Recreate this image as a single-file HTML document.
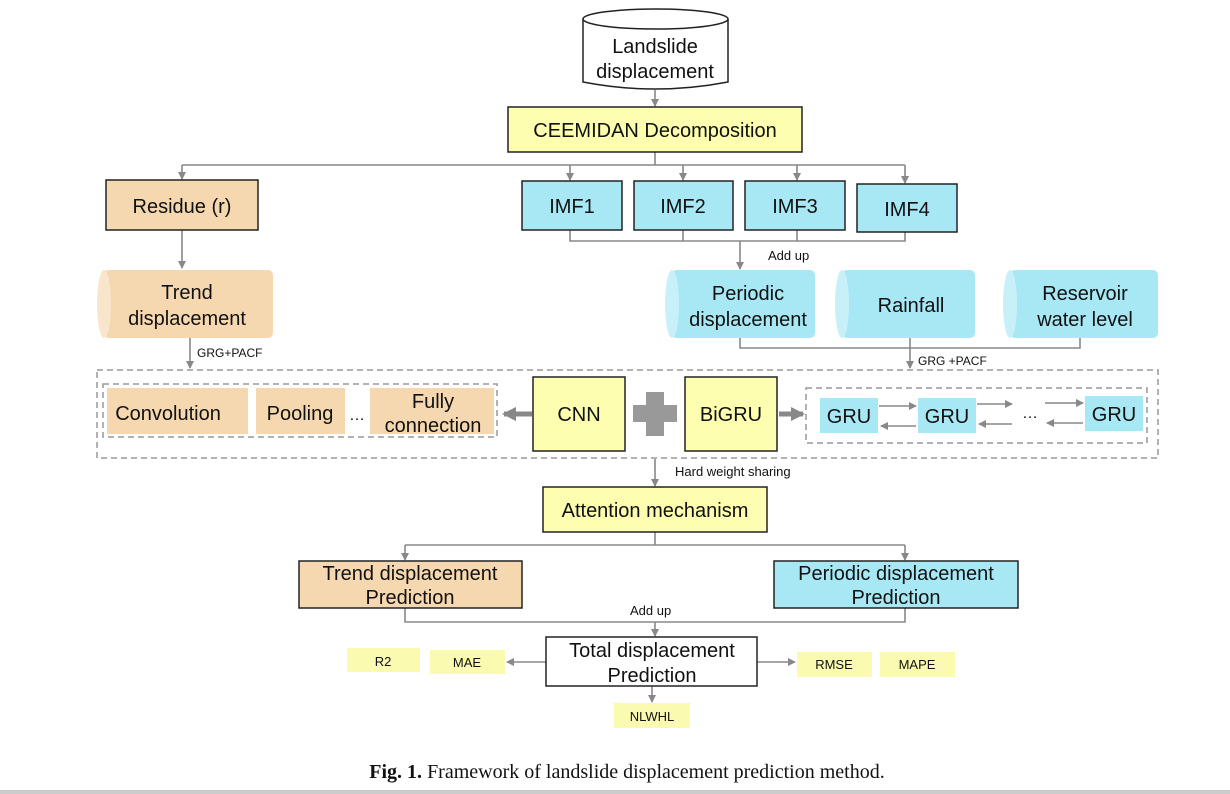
<!DOCTYPE html>
<html><head><meta charset="utf-8"><style>
html,body{margin:0;padding:0;background:#fff;}
svg{display:block;}
text{font-family:"Liberation Sans",Arial,sans-serif;fill:#111;}
</style></head><body>
<svg width="1230" height="794" viewBox="0 0 1230 794" xmlns="http://www.w3.org/2000/svg">
<defs>
<marker id="a" markerWidth="8" markerHeight="8" refX="7" refY="4" orient="auto" markerUnits="userSpaceOnUse"><path d="M0,0 L8,4 L0,8 z" fill="#888"/></marker>
<marker id="b" markerWidth="14" markerHeight="14" refX="12" refY="7" orient="auto" markerUnits="userSpaceOnUse"><path d="M0,0 L14,7 L0,14 z" fill="#888"/></marker>
</defs>
<g stroke="#888" stroke-width="1.6" fill="none">
<!-- top -->
<line x1="655" y1="90" x2="655" y2="106" marker-end="url(#a)"/>
<polyline points="655,152 655,165"/>
<line x1="182" y1="165" x2="905" y2="165"/>
<line x1="182" y1="165" x2="182" y2="179" marker-end="url(#a)"/>
<line x1="570" y1="165" x2="570" y2="180" marker-end="url(#a)"/>
<line x1="683" y1="165" x2="683" y2="180" marker-end="url(#a)"/>
<line x1="797" y1="165" x2="797" y2="180" marker-end="url(#a)"/>
<line x1="905" y1="165" x2="905" y2="183" marker-end="url(#a)"/>
<polyline points="570,230 570,241 905,241 905,232"/>
<line x1="683" y1="230" x2="683" y2="241"/>
<line x1="797" y1="230" x2="797" y2="241"/>
<line x1="740" y1="241" x2="740" y2="269" marker-end="url(#a)"/>
<line x1="182" y1="230" x2="182" y2="268" marker-end="url(#a)"/>
<line x1="190" y1="338" x2="190" y2="368" marker-end="url(#a)"/>
<polyline points="740,338 740,348 1080,348 1080,338"/>
<line x1="910" y1="338" x2="910" y2="368" marker-end="url(#a)"/>
<!-- middle -->
<line x1="655" y1="459" x2="655" y2="486" marker-end="url(#a)"/>
<polyline points="655,532 655,545"/>
<line x1="405" y1="545" x2="905" y2="545"/>
<line x1="405" y1="545" x2="405" y2="560" marker-end="url(#a)"/>
<line x1="905" y1="545" x2="905" y2="560" marker-end="url(#a)"/>
<polyline points="405,608 405,622 905,622 905,608"/>
<line x1="655" y1="622" x2="655" y2="636" marker-end="url(#a)"/>
<line x1="546" y1="662" x2="507" y2="662" marker-end="url(#a)"/>
<line x1="757" y1="662" x2="795" y2="662" marker-end="url(#a)"/>
<line x1="652" y1="686" x2="652" y2="702" marker-end="url(#a)"/>
<!-- GRU arrows -->
<line x1="879" y1="406" x2="916" y2="406" marker-end="url(#a)"/>
<line x1="916" y1="426" x2="881" y2="426" marker-end="url(#a)"/>
<line x1="977" y1="404" x2="1012" y2="404" marker-end="url(#a)"/>
<line x1="1012" y1="424" x2="979" y2="424" marker-end="url(#a)"/>
<line x1="1045" y1="403" x2="1083" y2="403" marker-end="url(#a)"/>
<line x1="1083" y1="423" x2="1047" y2="423" marker-end="url(#a)"/>
</g>
<!-- thick gray arrows -->
<g stroke="#888" stroke-width="5" fill="none">
<line x1="532" y1="414" x2="504" y2="414" marker-end="url(#b)"/>
<line x1="779" y1="414" x2="803" y2="414" marker-end="url(#b)"/>
</g>
<!-- plus -->
<rect x="633" y="405" width="44" height="17" fill="#999"/>
<rect x="646" y="392" width="18" height="44" fill="#999"/>
<!-- dashed -->
<g fill="none" stroke="#999" stroke-width="1.5" stroke-dasharray="6,4">
<rect x="97" y="370" width="1061" height="88"/>
<rect x="103" y="384" width="394" height="53"/>
<rect x="806" y="388" width="341" height="55"/>
</g>
<!-- top cylinder -->
<path d="M583,19 L583,82 Q655,96 728,82 L728,19" fill="#fff" stroke="#222" stroke-width="1.5"/>
<ellipse cx="655.5" cy="19" rx="72.5" ry="10" fill="#fff" stroke="#222" stroke-width="1.5"/>
<text x="655" y="53" font-size="20" text-anchor="middle">Landslide</text>
<text x="655" y="78" font-size="20" text-anchor="middle">displacement</text>
<!-- boxes -->
<g stroke="#222" stroke-width="1.5">
<rect x="508" y="107" width="294" height="45" fill="#fdfeb0"/>
<rect x="106" y="180" width="152" height="50" fill="#f5d8b0"/>
<rect x="522" y="181" width="100" height="49" fill="#a8e8f5"/>
<rect x="634" y="181" width="99" height="49" fill="#a8e8f5"/>
<rect x="745" y="181" width="100" height="49" fill="#a8e8f5"/>
<rect x="857" y="184" width="100" height="48" fill="#a8e8f5"/>
<rect x="533" y="377" width="92" height="74" fill="#fdfeb0"/>
<rect x="685" y="377" width="92" height="74" fill="#fdfeb0"/>
<rect x="543" y="487" width="224" height="45" fill="#fdfeb0"/>
<rect x="299" y="561" width="223" height="47" fill="#f5d8b0"/>
<rect x="774" y="561" width="244" height="47" fill="#a8e8f5"/>
<rect x="546" y="637" width="211" height="49" fill="#fff"/>
</g>
<text x="655" y="137" font-size="20" text-anchor="middle">CEEMIDAN Decomposition</text>
<text x="182" y="213" font-size="20" text-anchor="middle">Residue (r)</text>
<text x="572" y="213" font-size="20" text-anchor="middle">IMF1</text>
<text x="683" y="213" font-size="20" text-anchor="middle">IMF2</text>
<text x="795" y="213" font-size="20" text-anchor="middle">IMF3</text>
<text x="907" y="216" font-size="20" text-anchor="middle">IMF4</text>
<text x="768" y="260" font-size="13">Add up</text>
<!-- horizontal cylinders -->
<g>
<rect x="104" y="270" width="169" height="68" rx="5" fill="#f5d8b0"/>
<ellipse cx="104" cy="304" rx="7" ry="34" fill="#f8e6cc"/>
<rect x="672" y="270" width="143" height="68" rx="5" fill="#a8e8f5"/>
<ellipse cx="672" cy="304" rx="7" ry="34" fill="#c8f0f8"/>
<rect x="842" y="270" width="133" height="68" rx="5" fill="#a8e8f5"/>
<ellipse cx="842" cy="304" rx="7" ry="34" fill="#c8f0f8"/>
<rect x="1010" y="270" width="148" height="68" rx="5" fill="#a8e8f5"/>
<ellipse cx="1010" cy="304" rx="7" ry="34" fill="#c8f0f8"/>
</g>
<text x="187" y="299" font-size="20" text-anchor="middle">Trend</text>
<text x="187" y="325" font-size="20" text-anchor="middle">displacement</text>
<text x="748" y="300" font-size="20" text-anchor="middle">Periodic</text>
<text x="748" y="326" font-size="20" text-anchor="middle">displacement</text>
<text x="911" y="312" font-size="20" text-anchor="middle">Rainfall</text>
<text x="1085" y="300" font-size="20" text-anchor="middle">Reservoir</text>
<text x="1085" y="326" font-size="20" text-anchor="middle">water level</text>
<text x="197" y="357" font-size="12">GRG+PACF</text>
<text x="918" y="365" font-size="12">GRG +PACF</text>
<!-- inner boxes -->
<rect x="107" y="388" width="141" height="46" fill="#f5d8b0"/>
<rect x="256" y="388" width="89" height="46" fill="#f5d8b0"/>
<rect x="370" y="388" width="124" height="46" fill="#f5d8b0"/>
<text x="168" y="420" font-size="20" text-anchor="middle">Convolution</text>
<text x="300" y="420" font-size="20" text-anchor="middle">Pooling</text>
<text x="357" y="420" font-size="16" text-anchor="middle">…</text>
<text x="433" y="408" font-size="20" text-anchor="middle">Fully</text>
<text x="433" y="432" font-size="20" text-anchor="middle">connection</text>
<text x="579" y="421" font-size="20" text-anchor="middle">CNN</text>
<text x="731" y="421" font-size="20" text-anchor="middle">BiGRU</text>
<rect x="820" y="398" width="58" height="35" fill="#a8e8f5"/>
<rect x="918" y="398" width="58" height="35" fill="#a8e8f5"/>
<rect x="1085" y="396" width="58" height="35" fill="#a8e8f5"/>
<text x="849" y="423" font-size="20" text-anchor="middle">GRU</text>
<text x="947" y="423" font-size="20" text-anchor="middle">GRU</text>
<text x="1114" y="421" font-size="20" text-anchor="middle">GRU</text>
<text x="1030" y="418" font-size="16" text-anchor="middle">…</text>
<text x="675" y="476" font-size="13">Hard weight sharing</text>
<text x="655" y="517" font-size="20" text-anchor="middle">Attention mechanism</text>
<text x="410" y="580" font-size="20" text-anchor="middle">Trend displacement</text>
<text x="410" y="604" font-size="20" text-anchor="middle">Prediction</text>
<text x="896" y="580" font-size="20" text-anchor="middle">Periodic displacement</text>
<text x="896" y="604" font-size="20" text-anchor="middle">Prediction</text>
<text x="630" y="615" font-size="13">Add up</text>
<text x="652" y="657" font-size="20" text-anchor="middle">Total displacement</text>
<text x="652" y="682" font-size="20" text-anchor="middle">Prediction</text>
<g fill="#fafab0">
<rect x="347" y="648" width="73" height="24"/>
<rect x="430" y="650" width="75" height="24"/>
<rect x="797" y="652" width="75" height="25"/>
<rect x="880" y="652" width="75" height="25"/>
<rect x="614" y="703" width="76" height="25"/>
</g>
<text x="383" y="666" font-size="13" text-anchor="middle">R2</text>
<text x="467" y="667" font-size="13" text-anchor="middle">MAE</text>
<text x="834" y="669" font-size="13" text-anchor="middle">RMSE</text>
<text x="917" y="669" font-size="13" text-anchor="middle">MAPE</text>
<text x="652" y="721" font-size="13" text-anchor="middle">NLWHL</text>
<text x="627" y="778" font-size="20" text-anchor="middle" style="font-family:'Liberation Serif',serif"><tspan font-weight="bold">Fig. 1.</tspan> Framework of landslide displacement prediction method.</text>
<rect x="0" y="790" width="1230" height="4" fill="#ccc"/>
</svg>
</body></html>
